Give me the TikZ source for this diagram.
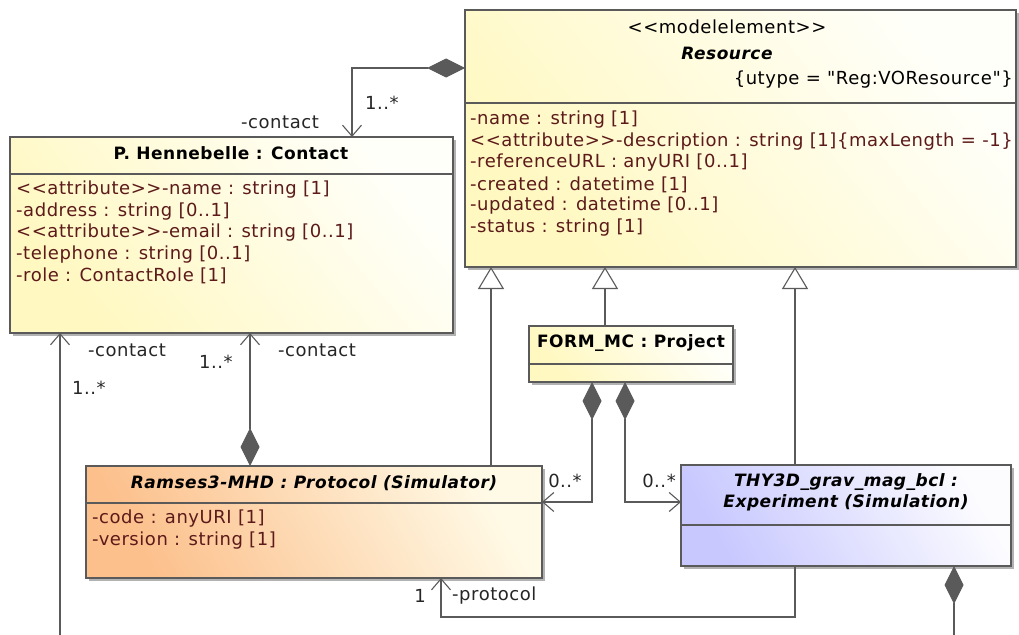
\documentclass[tikz,border=0pt]{standalone}
\usepackage{fontspec}
\setmainfont{DejaVu Sans}[Ligatures=TeXOff, LetterSpace=3]
\usetikzlibrary{arrows.meta,shadows}
\definecolor{linec}{HTML}{5A5A5A}
\definecolor{attrc}{HTML}{5C1A1A}
\definecolor{yel}{HTML}{FFF8C0}
\definecolor{yelr}{HTML}{FFFFFA}
\definecolor{ora}{HTML}{FCC08C}
\definecolor{orar}{HTML}{FFFAE6}
\definecolor{blu}{HTML}{C8C8FF}
\definecolor{blur}{HTML}{FCFCFF}
\tikzset{
  box/.style={draw=linec, line width=1.2pt, inner sep=0pt, outer sep=0pt, anchor=north west,
    drop shadow={shadow xshift=3pt, shadow yshift=-3pt, fill=black!30, draw=none, opacity=1}},
  ybox/.style={box, top color=yelr, bottom color=yel, shading angle=-50},
  divline/.style={draw=linec, line width=1.2pt},
  fnt/.style={font=\fontsize{18}{21}\selectfont},
  attr/.style={fnt, anchor=west, inner sep=0pt, text=attrc},
  ttl/.style={inner sep=0pt, font=\fontsize{17}{20}\selectfont\bfseries},
  ittl/.style={inner sep=0pt, font=\fontsize{17}{20}\selectfont\bfseries\itshape},
  lbl/.style={fnt, inner sep=0pt, text=black!85},
  conn/.style={draw=linec, line width=1.1pt},
  barb/.tip={Straight Barb[length=11pt,width=19pt,line width=1.1pt]},
  comp/.style={conn, {Diamond[length=38pt,width=19pt,fill=linec]}-barb},
  gen/.style={conn, -{Triangle[open,length=22pt,width=26pt,fill=white]}},
  assoc/.style={conn, -barb},
  compfree/.style={conn, {Diamond[length=38pt,width=19pt,fill=linec]}-},
}
\begin{document}
\begin{tikzpicture}[x=1pt,y=-1pt]
\useasboundingbox[fill=white] (0,0) rectangle (1019,634);

% ---------- boxes ----------
\node[ybox, minimum width=551pt, minimum height=257pt] (res) at (465,10) {};
\node[ybox, minimum width=443pt, minimum height=196pt] (contact) at (10,137) {};
\node[box, top color=orar, bottom color=ora, shading angle=-60, minimum width=456pt, minimum height=112pt] (ramses) at (86,466) {};
\node[ybox, minimum width=204pt, minimum height=56pt] (proj) at (529,326) {};
\node[box, top color=blur, bottom color=blu, shading angle=-60, minimum width=330pt, minimum height=101pt] (exp) at (681,465) {};

% dividers
\draw[divline] ([yshift=-93pt]res.north west) -- ([yshift=-93pt]res.north east);
\draw[divline] ([yshift=-37pt]contact.north west) -- ([yshift=-37pt]contact.north east);
\draw[divline] ([yshift=-37pt]ramses.north west) -- ([yshift=-37pt]ramses.north east);
\draw[divline] ([yshift=-38pt]proj.north west) -- ([yshift=-38pt]proj.north east);
\draw[divline] ([yshift=-60pt]exp.north west) -- ([yshift=-60pt]exp.north east);

% ---------- Resource ----------
\node[lbl, text=black] (rster) at (727,27) {<<modelelement>>};
\node[ittl] (rname) at (727,53) {Resource};
\node[lbl, text=black, anchor=east] (rtag) at (1013,80) {\{utype = "Reg:VOResource"\}};
\node[attr] (ra1) at (470,120) {-name : string [1]};
\node[attr] (ra2) at (470,141.5) {<<attribute>>-description : string [1]\{maxLength = -1\}};
\node[attr] (ra3) at (470,163) {-referenceURL : anyURI [0..1]};
\node[attr] (ra4) at (470,184.5) {-created : datetime [1]};
\node[attr] (ra5) at (470,206) {-updated : datetime [0..1]};
\node[attr] (ra6) at (470,227.5) {-status : string [1]};

% ---------- Contact ----------
\node[ttl] (cname) at (231,153) {P. Hennebelle : Contact};
\node[attr] (ca1) at (16,190) {<<attribute>>-name : string [1]};
\node[attr] (ca2) at (16,211.5) {-address : string [0..1]};
\node[attr] (ca3) at (16,233) {<<attribute>>-email : string [0..1]};
\node[attr] (ca4) at (16,254.5) {-telephone : string [0..1]};
\node[attr] (ca5) at (16,276) {-role : ContactRole [1]};

% ---------- Ramses ----------
\node[ittl] (pname) at (314,483) {Ramses3-MHD : Protocol (Simulator)};
\node[attr] (pa1) at (92,519) {-code : anyURI [1]};
\node[attr] (pa2) at (92,540.5) {-version : string [1]};

% ---------- Project ----------
\node[ttl] (jname) at (631,343) {FORM\_MC : Project};

% ---------- Experiment ----------
\node[ittl] (ename1) at (846,482) {THY3D\_grav\_mag\_bcl :};
\node[ittl] (ename2) at (846,503) {Experiment (Simulation)};

% ---------- connectors ----------
\coordinate (cfree) at (60,650);
\coordinate (efree) at (954,650);

\draw[comp] ([yshift=-58pt]res.north west) -| ([xshift=342pt]contact.north west);
\node[lbl] (l1) at (382,103) {1..*};
\node[lbl] (l2) at (280,122) {-contact};

\draw[assoc] (cfree) -- ([xshift=50pt]contact.south west);
\node[lbl] (l3) at (127,350) {-contact};
\node[lbl] (l4) at (89,388) {1..*};

\draw[comp] ([xshift=164pt]ramses.north west) -- ([xshift=240pt]contact.south west);
\node[lbl] (l5) at (216,362) {1..*};
\node[lbl] (l6) at (317,350) {-contact};

\draw[gen] ([xshift=405pt]ramses.north west) -- ([xshift=26pt]res.south west);
\draw[gen] ([xshift=76pt]proj.north west) -- ([xshift=140pt]res.south west);
\draw[gen] ([xshift=114pt]exp.north west) -- ([xshift=330pt]res.south west);

\draw[comp] ([xshift=63pt]proj.south west) |- ([yshift=-36pt]ramses.north east);
\node[lbl] (l7) at (565,481) {0..*};
\draw[comp] ([xshift=96pt]proj.south west) |- ([yshift=-37pt]exp.north west);
\node[lbl] (l8) at (659,481) {0..*};

\draw[assoc] ([xshift=114pt]exp.south west) -- ++(0,51) -| ([xshift=355pt]ramses.south west);
\node[lbl] (l9) at (420,596) {1};
\node[lbl, anchor=west] (l10) at (452,596) {-protocol};

\draw[compfree] ([xshift=273pt]exp.south west) -- (efree);
\end{tikzpicture}
\end{document}
